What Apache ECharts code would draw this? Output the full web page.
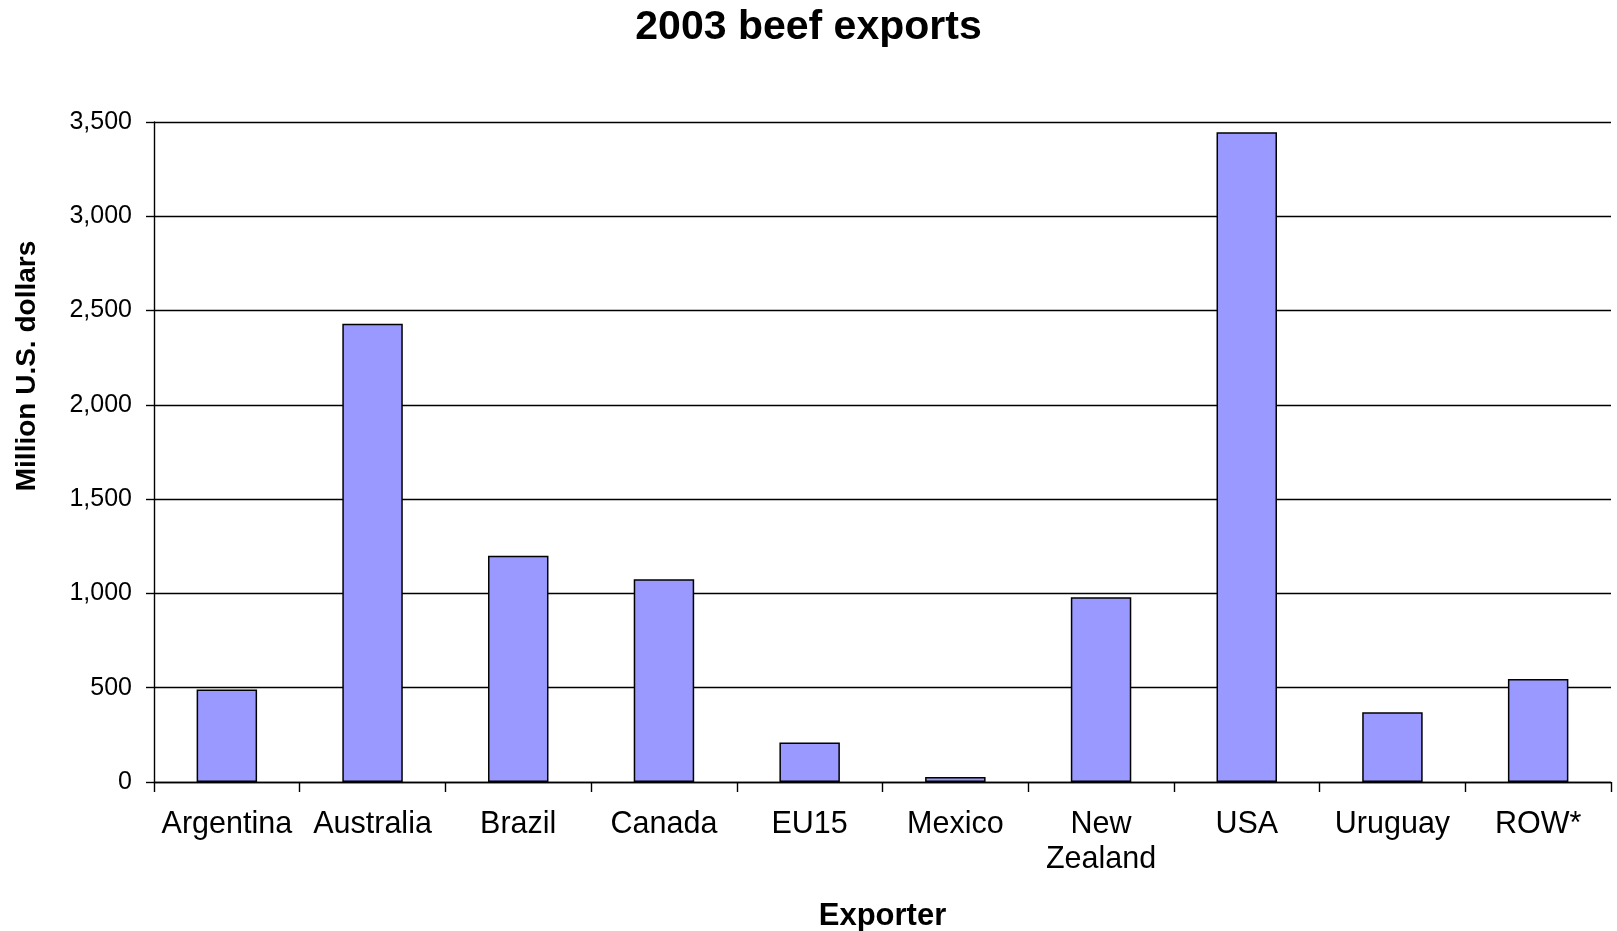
<!DOCTYPE html>
<html>
<head>
<meta charset="utf-8">
<title>2003 beef exports</title>
<script src="https://cdn.jsdelivr.net/npm/echarts@6/dist/echarts.min.js"></script>
<style>
  html, body { margin: 0; padding: 0; background: #fff; }
  #chart { width: 1617px; height: 931px; }
</style>
</head>
<body>
<div id="chart"></div>
<script>
// Exporting countries / regions
const exporters = ['Argentina', 'Australia', 'Brazil', 'Canada', 'EU15', 'Mexico', 'New Zealand', 'USA', 'Uruguay', 'ROW*'];
// Beef export value, million U.S. dollars
const exportValues = [490, 2430, 1200, 1075, 210, 27, 980, 3445, 370, 546];
// Value axis range
const yMin = 0;
const yMax = 3500;
const yStep = 500;

const FONT = '"Liberation Sans", Arial, Helvetica, sans-serif';

const chart = echarts.init(document.getElementById('chart'), null, { renderer: 'canvas' });

chart.setOption({
  animation: false,
  backgroundColor: '#ffffff',
  title: {
    text: '2003 beef exports',
    left: 'center',
    top: 2,
    textStyle: { fontFamily: FONT, fontSize: 41, fontWeight: 'bold', color: '#000' }
  },
  grid: { left: 154, right: 6, top: 122, bottom: 149, containLabel: false, outerBoundsMode: 'none' },
  xAxis: {
    type: 'category',
    data: exporters,
    name: 'Exporter',
    nameLocation: 'middle',
    nameGap: 119,
    nameTextStyle: { fontFamily: FONT, fontSize: 31, fontWeight: 'bold', color: '#000' },
    axisLine: { show: true, lineStyle: { color: '#000', width: 1.4 } },
    axisTick: { show: true, alignWithLabel: false, length: 10, lineStyle: { color: '#000', width: 1.4 } },
    axisLabel: {
      interval: 0,
      margin: 25,
      fontFamily: FONT,
      fontSize: 30.5,
      lineHeight: 35,
      color: '#000',
      formatter: v => v.replace(' ', '\n')
    },
    splitLine: { show: false }
  },
  yAxis: {
    type: 'value',
    min: yMin,
    max: yMax,
    interval: yStep,
    axisLine: { show: true, lineStyle: { color: '#000', width: 1.4 } },
    axisTick: { show: true, length: 8, lineStyle: { color: '#000', width: 1.4 } },
    axisLabel: {
      margin: 22,
      fontFamily: FONT,
      fontSize: 25,
      color: '#000',
      formatter: v => Number(v).toLocaleString('en-US')
    },
    splitLine: { show: true, lineStyle: { color: '#000', width: 1.4 } }
  },
  graphic: [{
    type: 'text',
    x: 27,
    y: 366,
    rotation: Math.PI / 2,
    style: {
      text: 'Million U.S. dollars',
      fontFamily: FONT,
      fontSize: 28,
      fontWeight: 'bold',
      fill: '#000',
      align: 'center',
      verticalAlign: 'middle'
    }
  }],
  series: [{
    type: 'bar',
    data: exportValues,
    barWidth: '41.5%',
    itemStyle: { color: '#9999ff', borderColor: '#000', borderWidth: 1.5 }
  }]
});
</script>
</body>
</html>
